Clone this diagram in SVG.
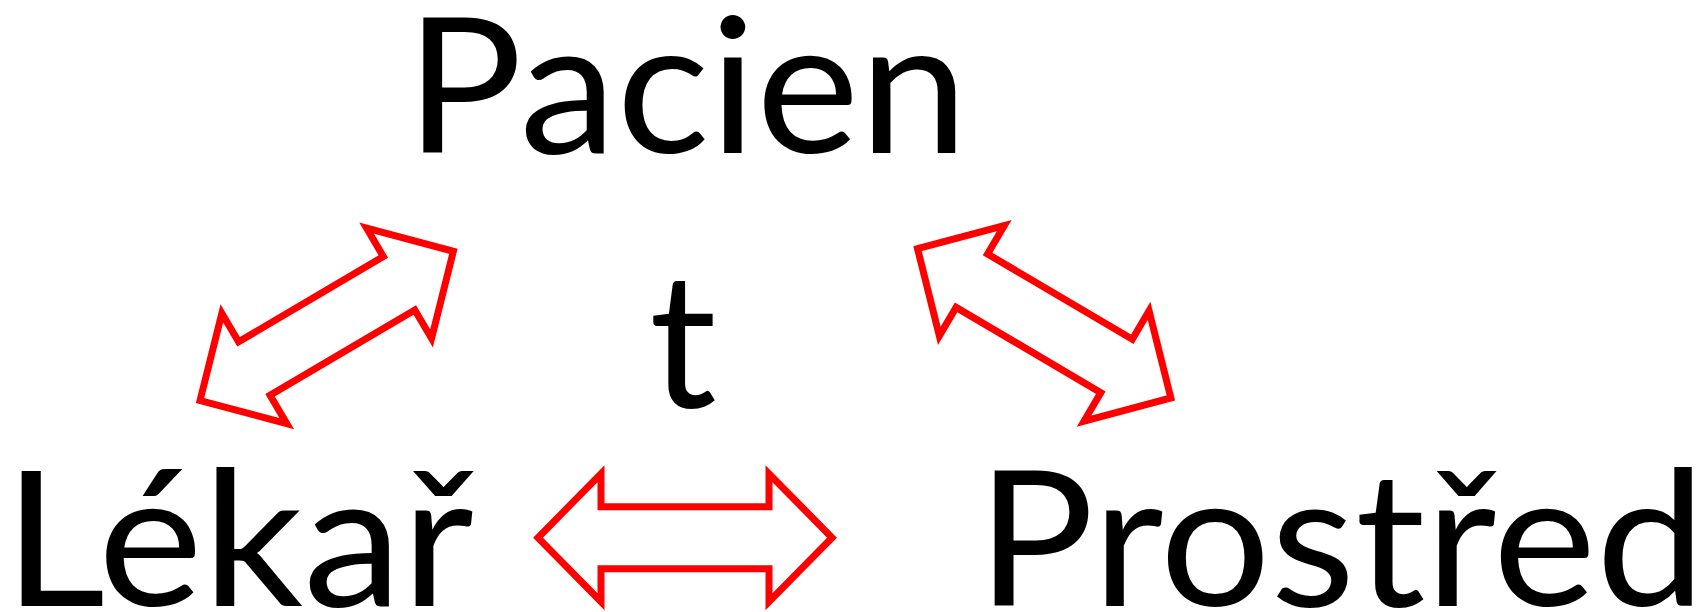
<svg xmlns="http://www.w3.org/2000/svg" xmlns:xlink="http://www.w3.org/1999/xlink" width="1708" height="612" viewBox="0 0 1708 612">
<style>
.lbl{font-family:Lato,"Open Sans","Liberation Sans",sans-serif;font-size:188px;fill:#000;text-anchor:middle}
.arr{fill:#fff;stroke:#ff0000;stroke-width:7;stroke-linejoin:miter;stroke-miterlimit:10}
</style>
<defs>
<polygon id="dbl" points="-147,0 -84,-64 -84,-31 84,-31 84,-64 147,0 84,64 84,31 -84,31 -84,64"/>
</defs>
<rect width="1708" height="612" fill="#fff"/>
<g id="connectors">
<use xlink:href="#dbl" href="#dbl" class="arr" transform="translate(326.7,325.9) rotate(-30.5)"/>
<use xlink:href="#dbl" href="#dbl" class="arr" transform="translate(1044.2,323.3) rotate(30.5)"/>
<use xlink:href="#dbl" href="#dbl" class="arr" transform="translate(685,537.7)"/>
</g>
<g id="node-pacient">
<text class="lbl" transform="translate(686.8,153) scale(1.037,1)" x="0" y="0">Pacien</text>
<text class="lbl" x="683" y="407">t</text>
</g>
<g id="node-lekar">
<text class="lbl" transform="translate(238.6,606) scale(1.054,1)" x="0" y="0">Lékař</text>
</g>
<g id="node-prostred">
<text class="lbl" transform="translate(1341.2,606) scale(1.041,1)" x="0" y="0">Prostřed</text>
</g>
</svg>
